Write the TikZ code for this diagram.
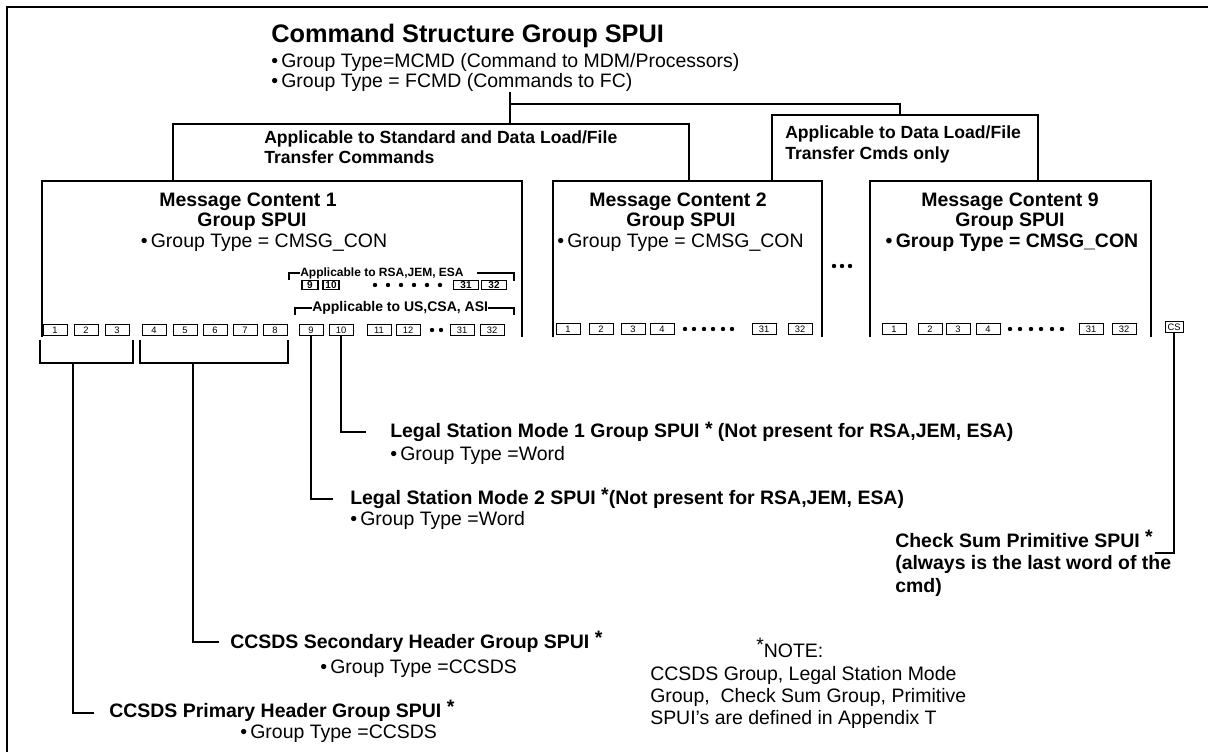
\documentclass[tikz,border=0pt]{standalone}
\usepackage{fontspec}
\setmainfont{Liberation Sans}
\usetikzlibrary{positioning}
\usetikzlibrary{calc}

\begin{document}
\begin{tikzpicture}[x=0.75pt,y=-0.75pt,
  every node/.style={inner sep=0pt},
  txt/.style={anchor=base west,font=\fontsize{14.6}{17}\selectfont},
  btxt/.style={anchor=base west,font=\fontsize{14.6}{17}\selectfont\bfseries},
  appl/.style={anchor=base west,font=\fontsize{13.2}{15}\selectfont\bfseries},
  mcbox/.style={minimum height=117pt},
  word/.style={draw,line width=0.7pt,minimum width=18pt,minimum height=8pt,font=\fontsize{7}{7}\selectfont},
  rword/.style={draw,line width=0.8pt,minimum height=6.5pt,font=\fontsize{7.5}{7.5}\selectfont\bfseries},
  wire/.style={line width=1.3pt}
  ]
\useasboundingbox (0,0) rectangle (1208,752);
\draw[line width=1.5pt] (7,752) -- (7,7) -- (1208,7);

% top group
\node[anchor=base west,font=\fontsize{19}{21}\selectfont\bfseries] (title) at (271,43) {Command Structure Group SPUI};
\node[txt] (gt1) at (271,68) {\textbullet\,Group Type=MCMD (Command to MDM/Processors)};
\node[txt] (gt2) at (271,88) {\textbullet\,Group Type = FCMD (Commands to FC)};

% message content boxes
\node[mcbox,minimum width=360pt] (mc1) at (282,259) {};
\node[mcbox,minimum width=201.75pt] (mc2) at (687.5,259) {};
\node[mcbox,minimum width=210.75pt] (mc9) at (1010.5,259) {};
\foreach \m in {mc1,mc2,mc9}
  \draw[wire] (\m.south west) |- (\m.north east) -- (\m.south east);

\coordinate (ttop) at (510,92);
\coordinate (tj) at (510,104);
\coordinate (stdl) at (173,124);
\coordinate (stdr) at (689,124);
\coordinate (datl) at (772,115);
\coordinate (datr) at (1038,115);
\coordinate (datj) at (900,115);
\draw[wire] (ttop) -- (ttop |- stdl);
\draw[wire] (tj) -| (datj);
\draw[wire] (stdl |- mc1.north) -- (stdl) -- (stdr) -- (stdr |- mc2.north);
\draw[wire] (datl |- mc2.north) -- (datl) -- (datr) -- (datr |- mc9.north);

\node[appl] (std1) at (264,144) {Applicable to Standard and Data Load/File};
\node[appl] (std2) at (264,164) {Transfer Commands};
\node[appl] (dat1) at (785,139) {Applicable to Data Load/File};
\node[appl] (dat2) at (785,160) {Transfer Cmds only};

\node[btxt,anchor=base] (mct1) at (248,207) {Message Content 1};
\node[btxt,anchor=base] (mcg1) at (252,227) {Group SPUI};
\node[txt,anchor=base] (mcb1) at (264,248) {\textbullet\,Group Type = CMSG\_CON};
\node[btxt,anchor=base] (mct2) at (678,207) {Message Content 2};
\node[btxt,anchor=base] (mcg2) at (681,227) {Group SPUI};
\node[txt] (mcb2) at (557,248) {\textbullet\,Group Type = CMSG\_CON};
\node[btxt,anchor=base] (mct9) at (1010,207) {Message Content 9};
\node[btxt,anchor=base] (mcg9) at (1010,227) {Group SPUI};
\node[btxt,anchor=base] (mcb9) at (1012,248) {\textbullet\,Group Type = CMSG\_CON};
\foreach \x in {834,842,850} \fill (\x,266) circle (2.2);

% words
\foreach \n/\x in {1/55,2/86,3/117,4/154,5/185,6/215,7/245,8/275,9/311,10/341,11/379,12/408,31/462,32/492}
  \node[word] (a\n) at (\x,330) {\n};
\foreach \x in {432,441} \fill (\x,330) circle (2.2);
\foreach \n/\x in {1/568,2/601,3/633,4/662,31/764,32/800}
  \node[word] (b\n) at (\x,329) {\n};
\foreach \x in {685,694,704,713,723,732} \fill (\x,329) circle (2.2);
\foreach \n/\x in {1/894,2/930,3/958,4/988,31/1091,32/1124}
  \node[word] (c\n) at (\x,329) {\n};
\foreach \x in {1010,1020,1031,1041,1052,1062} \fill (\x,329) circle (2.2);
\node[word,minimum width=13.5pt] (cs) at (1174,327) {CS};

% RSA / US rows
\foreach \n/\x/\w in {9/310/12pt,10/331/12pt,31/466/19pt,32/494/19pt}
  \node[rword,minimum width=\w] (r\n) at (\x,285) {\n};
\foreach \x in {375,388,401,414,427,440} \fill (\x,285) circle (2.2);
\node[anchor=west,font=\fontsize{9}{9}\selectfont\bfseries] (rsa) at (300,273) {Applicable to RSA,JEM, ESA};
\draw[wire] (289,280) |- (rsa.west);
\draw[wire] ([xshift=10pt]rsa.east) -| (514,281);
\node[anchor=west,font=\fontsize{10.5}{10.5}\selectfont\bfseries] (usa) at (312,308) {Applicable to US,CSA, ASI};
\draw[wire] (295,315) |- (usa.west);
\draw[wire] (usa.east) -| (514,315);

% brackets and callouts
\coordinate (br1l) at (40,340);
\coordinate (br1r) at (133,340);
\coordinate (br2l) at (140,340);
\coordinate (br2r) at (288,340);
\draw[wire] (br1l) -- ++(0,23) -| (br1r);
\draw[wire] (br2l) -- ++(0,23) -| (br2r);
\coordinate (e1) at (94,713);
\coordinate (e2) at (219,642);
\coordinate (e9) at (333,499);
\coordinate (e10) at (366,432);
\coordinate (ecs) at (1155,553);
\draw[wire] (73,363) |- (e1);
\draw[wire] (193,363) |- (e2);
\draw[wire] (a9.south) |- (e9);
\draw[wire] (a10.south) |- (e10);
\draw[wire] (cs.south) |- (ecs);

\node[btxt] (lsm1) at (390,438) {Legal Station Mode 1 Group SPUI \raisebox{2pt}{*} (Not present for RSA,JEM, ESA)};
\node[txt] (lsm1g) at (390,461) {\textbullet\,Group Type =Word};
\node[btxt] (lsm2) at (350,504) {Legal Station Mode 2 SPUI \raisebox{2pt}{*}(Not present for RSA,JEM, ESA)};
\node[txt] (lsm2g) at (350,526) {\textbullet\,Group Type =Word};
\node[btxt] (ccs) at (230,648) {CCSDS Secondary Header Group SPUI \raisebox{3pt}{*}};
\node[txt] (ccsg) at (320,673) {\textbullet\,Group Type =CCSDS};
\node[btxt] (ccp) at (109,717) {CCSDS Primary Header Group SPUI \raisebox{3pt}{*}};
\node[txt] (ccpg) at (240,738) {\textbullet\,Group Type =CCSDS};
\node[btxt] (chk1) at (895,547) {Check Sum Primitive SPUI \raisebox{3pt}{*}};
\node[btxt] (chk2) at (895,570) {(always is the last word of the};
\node[btxt] (chk3) at (895,592) {cmd)};
\node[txt] (note) at (756,657) {\raisebox{4pt}{*}NOTE:};
\node[txt] (nt1) at (650,680) {CCSDS Group, Legal Station Mode};
\node[txt] (nt2) at (650,702) {Group,\ \ Check Sum Group, Primitive};
\node[txt] (nt3) at (650,724) {SPUI’s are defined in Appendix T};
\end{tikzpicture}
\end{document}
